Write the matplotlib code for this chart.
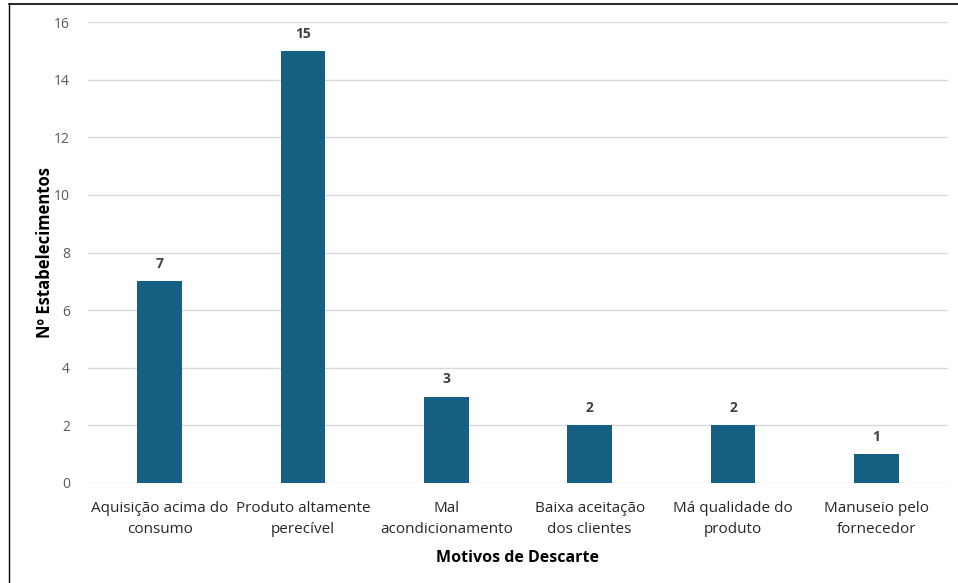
import matplotlib
matplotlib.use("Agg")

import matplotlib.pyplot as plt
from matplotlib.lines import Line2D

plt.rcParams["font.family"] = ["Open Sans", "DejaVu Sans"]

# Data
categorias = [
    "Aquisição acima do\nconsumo",
    "Produto altamente\nperecível",
    "Mal\nacondicionamento",
    "Baixa aceitação\ndos clientes",
    "Má qualidade do\nproduto",
    "Manuseio pelo\nfornecedor",
]
valores = [7, 15, 3, 2, 2, 1]
yticks = [0, 2, 4, 6, 8, 10, 12, 14, 16]

BAR = "#156082"

fig = plt.figure(figsize=(9.58, 5.83), dpi=100)
ax = fig.add_axes([88 / 958, 1 - 483 / 583, 860 / 958, 461 / 583])

x = range(len(categorias))
bars = ax.bar(x, valores, width=0.31, color=BAR, zorder=3)

for b, v in zip(bars, valores):
    ax.text(b.get_x() + b.get_width() / 2, v + 0.35, str(v),
            ha="center", va="bottom", fontsize=10, fontweight="bold", color="#404040")

ax.set_xlim(-0.5, len(categorias) - 0.5)
ax.set_ylim(0, 16)
ax.set_yticks(yticks)
ax.set_xticks(list(x))
ax.set_xticklabels(categorias, fontsize=11, color="#262626", linespacing=1.5)
ax.tick_params(axis="y", length=0, pad=13, labelsize=10, labelcolor="#595959")
ax.tick_params(axis="x", length=0, pad=13)

ax.grid(axis="y", color="#d9d9d9", linewidth=1, zorder=0)
for s in ax.spines.values():
    s.set_visible(False)

ax.set_xlabel("Motivos de Descarte", fontsize=11.5, fontweight="bold", color="#000000", labelpad=10)
ax.set_ylabel("Nº Estabelecimentos", fontsize=12, fontweight="bold", color="#000000", labelpad=0)

# outer frame (top and left edges visible)
fig.add_artist(Line2D([8.5 / 958, 1], [1 - 4 / 583, 1 - 4 / 583], transform=fig.transFigure,
                      color="black", linewidth=1.2))
fig.add_artist(Line2D([8.5 / 958, 8.5 / 958], [0, 1 - 4 / 583], transform=fig.transFigure,
                      color="black", linewidth=1.0))

fig.savefig("out.png", dpi=100)
